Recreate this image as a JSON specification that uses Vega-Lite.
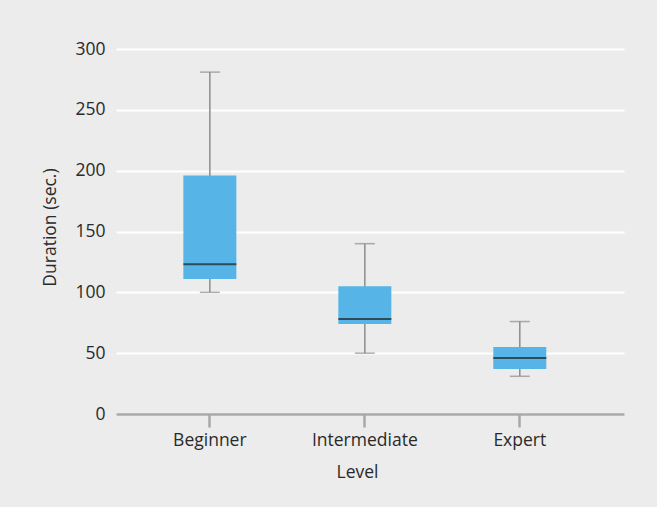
{
  "$schema": "https://vega.github.io/schema/vega-lite/v6.json",
  "width": 508,
  "height": 365,
  "autosize": {"type": "none"},
  "padding": {"left": 116, "top": 49, "right": 33, "bottom": 93},
  "background": "#ebeceb",
  "config": {
    "view": {"stroke": null},
    "font": "Open Sans",
    "axis": {"labelFont": "Open Sans", "titleFont": "Open Sans", "labelFontSize": 17.5, "titleFontSize": 17.5, "labelColor": "#2a2a2a", "titleColor": "#2a2a2a", "titleFontWeight": "normal"}
  },
  "data": {
    "values": [
      {"Level": "Beginner", "min": 100, "q1": 111, "median": 123, "q3": 196, "max": 281},
      {"Level": "Intermediate", "min": 50, "q1": 74, "median": 78, "q3": 105, "max": 140},
      {"Level": "Expert", "min": 31, "q1": 37, "median": 46, "q3": 55, "max": 76}
    ]
  },
  "encoding": {
    "x": {
      "field": "Level", "type": "nominal", "sort": null,
      "scale": {"type": "band", "paddingInner": 0, "paddingOuter": 0.139, "align": 0.38},
      "axis": {
        "title": "Level", "labelAngle": 0, "domain": true, "domainColor": "#a8a8a8", "domainWidth": 2.5,
        "ticks": true, "tickColor": "#a8a8a8", "tickWidth": 2.5, "tickSize": 13, "labelPadding": 4,
        "grid": false, "titleX": 241, "titleY": 63, "titleBaseline": "alphabetic", "titleAnchor": null
      }
    }
  },
  "layer": [
    {
      "mark": {"type": "rule", "color": "#8c8c8c", "strokeWidth": 1.5},
      "encoding": {
        "y": {
          "field": "min", "type": "quantitative",
          "scale": {"domain": [0, 300], "nice": false},
          "axis": {
            "title": "Duration (sec.)", "values": [0, 50, 100, 150, 200, 250, 300],
            "domain": false, "ticks": false, "labelPadding": 11,
            "grid": true, "gridColor": "#ffffff", "gridWidth": 2,
            "titleX": -66, "titleY": 178, "titleAngle": -90, "titleBaseline": "middle", "titleAlign": "center", "titleAnchor": null
          }
        },
        "y2": {"field": "max"}
      }
    },
    {
      "mark": {"type": "tick", "color": "#8c8c8c", "size": 20, "thickness": 1.5},
      "encoding": {"y": {"field": "min", "type": "quantitative"}}
    },
    {
      "mark": {"type": "tick", "color": "#8c8c8c", "size": 20, "thickness": 1.5},
      "encoding": {"y": {"field": "max", "type": "quantitative"}}
    },
    {
      "mark": {"type": "bar", "color": "#56b5e6", "width": 53},
      "encoding": {
        "y": {"field": "q1", "type": "quantitative"},
        "y2": {"field": "q3"}
      }
    },
    {
      "mark": {"type": "tick", "color": "#1e1e1e", "size": 53, "thickness": 2},
      "encoding": {"y": {"field": "median", "type": "quantitative"}}
    }
  ]
}
